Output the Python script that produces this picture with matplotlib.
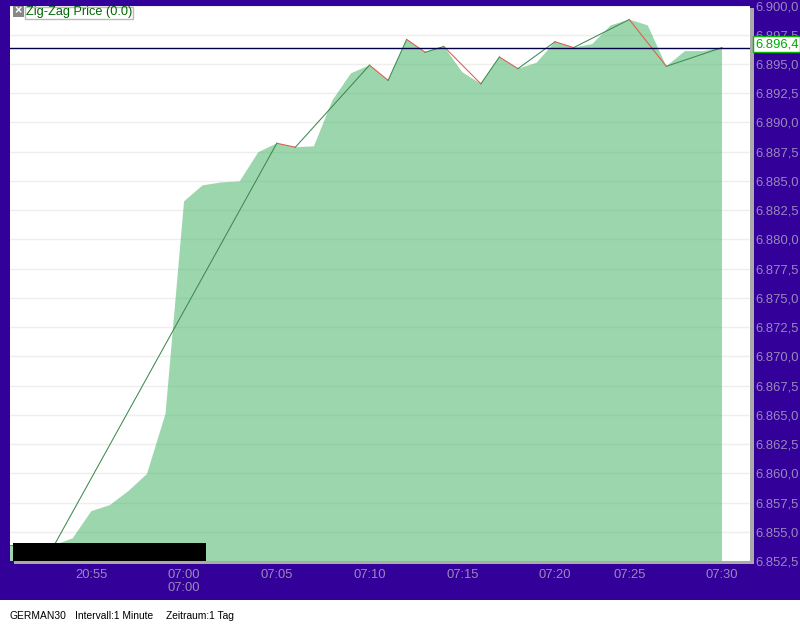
import matplotlib
matplotlib.use('Agg')
import matplotlib.pyplot as plt
from matplotlib.patches import Rectangle

# price per minute, oldest first
Price = [6853.85, 6853.85, 6853.85, 6853.85, 6854.45, 6856.76, 6857.28, 6858.48,
         6859.94, 6865.08, 6883.25, 6884.62, 6884.87, 6884.96, 6887.45, 6888.22,
         6887.88, 6887.96, 6891.9, 6894.2, 6894.9, 6893.6, 6897.1, 6896.0,
         6896.5, 6894.3, 6893.3, 6895.6, 6894.6, 6895.1, 6896.9, 6896.4,
         6896.7, 6898.3, 6898.8, 6898.3, 6894.8, 6896.1, 6896.1, 6896.4]
# minutes where the zig-zag turns
Pivots = [0, 3, 15, 16, 20, 21, 22, 23, 24, 26, 27, 28, 30, 31, 34, 36, 39]
Tick_pos = [5, 10, 15, 20, 25, 30, 34, 39]
Tick_labels = ['20:55', '07:00\n07:00', '07:05', '07:10', '07:15', '07:20', '07:25', '07:30']
Y_ticks = [6852.5, 6855, 6857.5, 6860, 6862.5, 6865, 6867.5, 6870, 6872.5, 6875, 6877.5,
           6880, 6882.5, 6885, 6887.5, 6890, 6892.5, 6895, 6897.5, 6900]
Last_price = 6896.4

PURPLE = '#330099'
TEXT = '#9988bb'
W, H = 800, 625


def price_label(v):
    return f'{v:,.1f}'.replace(',', 'X').replace('.', ',').replace('X', '.')


plt.rcParams['font.family'] = ['Liberation Sans', 'DejaVu Sans']

fig = plt.figure(figsize=(8, 6.25), dpi=100, facecolor=PURPLE)


def fig_rect(x0, y0, x1, y1, **kw):
    # rectangle in image pixels, y from the top
    fig.add_artist(Rectangle((x0 / W, 1 - y1 / H), (x1 - x0) / W, (y1 - y0) / H,
                             transform=fig.transFigure, **kw))


fig_rect(0, 600, W, H, color='white', lw=0, zorder=0)
fig_rect(14, 561, 754, 564, color='#aaaaaa', lw=0, zorder=0)
fig_rect(750, 8, 754, 564, color='#aaaaaa', lw=0, zorder=0)

ax = fig.add_axes([10 / W, 1 - 561 / H, 740 / W, 555.5 / H], facecolor='white')
x = list(range(len(Price)))
step = 18.55
ax.set_xlim(39 - (722 - 10) / step, 39 + (750 - 722) / step)
ax.set_ylim(6852.5, 6900)

ax.grid(axis='y', color='#eeeeee', lw=1)
ax.set_axisbelow(True)
ax.fill_between(x, Price, 6800, color='#3baf5d', alpha=0.5, lw=0, zorder=2)

for a, b in zip(Pivots[:-1], Pivots[1:]):
    col = '#3d8a50' if Price[b] > Price[a] else '#e2574c'
    ax.plot([a, b], [Price[a], Price[b]], color=col, lw=0.75, zorder=3)

ax.axhline(Last_price, color='#000044', lw=1, zorder=4)

for s in ax.spines.values():
    s.set_visible(False)
ax.yaxis.tick_right()
ax.set_yticks(Y_ticks)
ax.set_yticklabels([price_label(v) for v in Y_ticks])
ax.set_xticks(Tick_pos)
ax.set_xticklabels(Tick_labels, linespacing=1.05)
ax.tick_params(axis='y', length=0, pad=4.2, labelsize=9.4, labelcolor=TEXT)
ax.tick_params(axis='x', length=0, pad=6, labelsize=9.4, labelcolor=TEXT)

# last price box
fig_rect(753, 36, 800, 52, facecolor='white', edgecolor='#00bb00', lw=1, zorder=5)
fig.text(755 / W, 1 - 44.5 / H, price_label(Last_price), color='#00aa00', fontsize=9.4,
         va='center', ha='left', zorder=6)

# legend box
fig_rect(13, 6, 24, 17, color='#888888', lw=0, zorder=5)
fig.text(18.5 / W, 1 - 11.5 / H, '\u00d7', color='white', fontsize=9, fontweight='bold',
         va='center', ha='center', zorder=6)
fig_rect(24.5, 6.5, 132.5, 18.5, facecolor='white', edgecolor='#bbbbbb', lw=1, zorder=5)
fig.text(25.5 / W, 1 - 12.5 / H, 'Zig-Zag Price (0.0)', color='#006600', fontsize=9.2,
         va='center', ha='left', zorder=6)

# blacked out strip
fig_rect(13, 543, 206, 561, color='black', lw=0, zorder=5)

for tx, label in [(10, 'GERMAN30'), (75, 'Intervall:1 Minute'), (166, 'Zeitraum:1 Tag')]:
    fig.text(tx / W, 1 - 616 / H, label, color='black', fontsize=7.4, va='center', ha='left')

fig.savefig('out.png', dpi=100, facecolor=fig.get_facecolor())
